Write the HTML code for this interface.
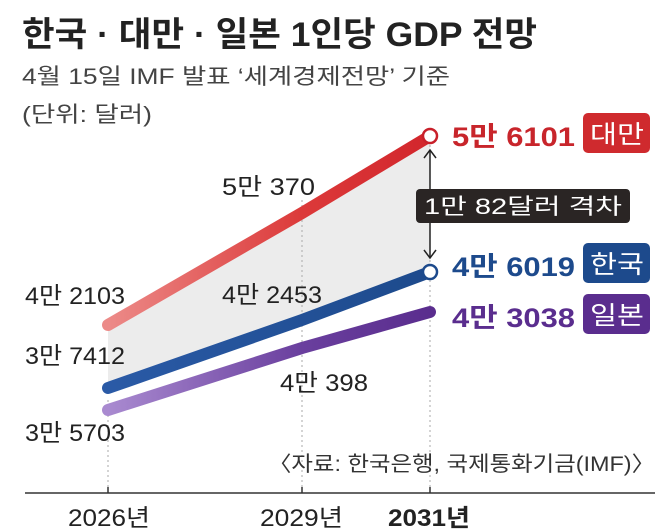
<!DOCTYPE html>
<html><head><meta charset="utf-8"><style>
html,body{margin:0;padding:0;background:#fff}
svg{display:block}
text{font-family:"Liberation Sans","Noto Sans CJK KR",sans-serif}
</style></head><body>
<svg width="660" height="532" viewBox="0 0 660 532">
<defs>
<linearGradient id="gr" x1="108" y1="0" x2="430" y2="0" gradientUnits="userSpaceOnUse"><stop offset="0" stop-color="#ec8a88"/><stop offset="0.6" stop-color="#dc3a3a"/><stop offset="1" stop-color="#d2262c"/></linearGradient>
<linearGradient id="gb" x1="108" y1="0" x2="430" y2="0" gradientUnits="userSpaceOnUse"><stop offset="0" stop-color="#2a5aa6"/><stop offset="1" stop-color="#1d4a8c"/></linearGradient>
<linearGradient id="gp" x1="108" y1="0" x2="430" y2="0" gradientUnits="userSpaceOnUse"><stop offset="0" stop-color="#a98ad0"/><stop offset="0.6" stop-color="#6a3f9e"/><stop offset="1" stop-color="#5a2d8e"/></linearGradient>
</defs>
<text x="22" y="46" font-size="34" font-weight="bold" fill="#222" textLength="515" lengthAdjust="spacingAndGlyphs">한국 · 대만 · 일본 1인당 GDP 전망</text>
<text x="22" y="84" font-size="22" fill="#444" textLength="428" lengthAdjust="spacingAndGlyphs">4월 15일 IMF 발표 ‘세계경제전망’ 기준</text>
<text x="22" y="122" font-size="22" fill="#444" textLength="130" lengthAdjust="spacingAndGlyphs">(단위: 달러)</text>
<polygon points="108,325 302,213 430,136 430,272 302,320 108,388" fill="#ececec"/>
<g stroke="#aaa" stroke-dasharray="2,3" stroke-width="1">
<line x1="108" y1="400" x2="108" y2="493"/><line x1="302" y1="200" x2="302" y2="493"/><line x1="430" y1="140" x2="430" y2="493"/>
</g>
<line x1="25" y1="493" x2="655" y2="493" stroke="#333" stroke-width="1.5"/>
<g stroke="#333" stroke-width="1.5"><line x1="108" y1="487" x2="108" y2="493"/><line x1="302" y1="487" x2="302" y2="493"/><line x1="430" y1="487" x2="430" y2="493"/></g>
<polyline points="108,325 302,213 430,136" fill="none" stroke="url(#gr)" stroke-width="12" stroke-linecap="round"/>
<polyline points="108,388 302,320 430,272" fill="none" stroke="url(#gb)" stroke-width="12" stroke-linecap="round"/>
<polyline points="108,410 302,348 430,312" fill="none" stroke="url(#gp)" stroke-width="12" stroke-linecap="round"/>
<circle cx="430" cy="136" r="7" fill="#fff" stroke="#c8202a" stroke-width="2.5"/>
<circle cx="430" cy="272" r="7" fill="#fff" stroke="#1d4a8c" stroke-width="2.5"/>
<line x1="430" y1="150" x2="430" y2="258" stroke="#222" stroke-width="1.5"/>
<polyline points="424,158 430,150 436,158" fill="none" stroke="#222" stroke-width="1.5"/>
<polyline points="424,250 430,258 436,250" fill="none" stroke="#222" stroke-width="1.5"/>
<rect x="416" y="189" width="214" height="34" rx="4" fill="#2a2524"/>
<text x="424" y="214" font-size="22" fill="#fff" textLength="198" lengthAdjust="spacingAndGlyphs">1만 82달러 격차</text>
<text x="452" y="146" font-size="27" font-weight="bold" fill="#c8252b" textLength="123" lengthAdjust="spacingAndGlyphs">5만 6101</text>
<rect x="583" y="113" width="67" height="40" rx="5" fill="#cf2a2e"/>
<text x="590" y="143" font-size="25" fill="#fff" textLength="54" lengthAdjust="spacingAndGlyphs">대만</text>
<text x="452" y="276" font-size="27" font-weight="bold" fill="#1d4a8c" textLength="123" lengthAdjust="spacingAndGlyphs">4만 6019</text>
<rect x="583" y="243" width="67" height="40" rx="5" fill="#1d4a8c"/>
<text x="590" y="273" font-size="25" fill="#fff" textLength="54" lengthAdjust="spacingAndGlyphs">한국</text>
<text x="452" y="327" font-size="27" font-weight="bold" fill="#5a2d8e" textLength="123" lengthAdjust="spacingAndGlyphs">4만 3038</text>
<rect x="583" y="294" width="67" height="40" rx="5" fill="#5a2d8e"/>
<text x="590" y="324" font-size="25" fill="#fff" textLength="54" lengthAdjust="spacingAndGlyphs">일본</text>
<g font-size="24" fill="#222">
<text x="25" y="304" textLength="100" lengthAdjust="spacingAndGlyphs">4만 2103</text>
<text x="25" y="364" textLength="100" lengthAdjust="spacingAndGlyphs">3만 7412</text>
<text x="25" y="441" textLength="100" lengthAdjust="spacingAndGlyphs">3만 5703</text>
<text x="222" y="195" textLength="93" lengthAdjust="spacingAndGlyphs">5만 370</text>
<text x="222" y="303" textLength="100" lengthAdjust="spacingAndGlyphs">4만 2453</text>
<text x="280" y="391" textLength="88" lengthAdjust="spacingAndGlyphs">4만 398</text>
<text x="68" y="526" textLength="82" lengthAdjust="spacingAndGlyphs">2026년</text>
<text x="260" y="526" textLength="83" lengthAdjust="spacingAndGlyphs">2029년</text>
<text x="388" y="526" font-weight="bold" textLength="82" lengthAdjust="spacingAndGlyphs">2031년</text>
</g>
<text x="268" y="471" font-size="21" fill="#333" textLength="387" lengthAdjust="spacingAndGlyphs">〈자료: 한국은행, 국제통화기금(IMF)〉</text>
</svg>
</body></html>
